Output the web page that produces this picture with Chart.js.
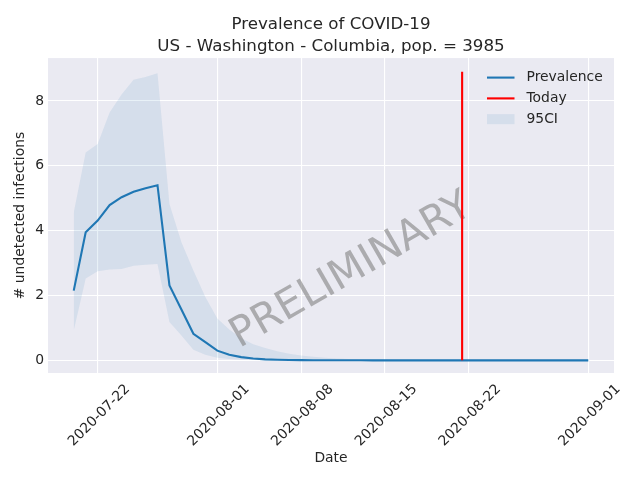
<!DOCTYPE html>
<html><head><meta charset="utf-8">
<script src="https://cdn.jsdelivr.net/npm/chart.js@4.4.0/dist/chart.umd.min.js"></script>
<style>html,body{margin:0;padding:0;background:#fff}</style>
</head><body>
<canvas id="c" width="640" height="480"></canvas>
<script>
const dates = ['2020-07-20','2020-07-21','2020-07-22','2020-07-23','2020-07-24','2020-07-25','2020-07-26','2020-07-27','2020-07-28','2020-07-29','2020-07-30','2020-07-31',
'2020-08-01','2020-08-02','2020-08-03','2020-08-04','2020-08-05','2020-08-06','2020-08-07','2020-08-08','2020-08-09','2020-08-10','2020-08-11','2020-08-12','2020-08-13','2020-08-14','2020-08-15','2020-08-16','2020-08-17','2020-08-18','2020-08-19','2020-08-20','2020-08-21','2020-08-22','2020-08-23','2020-08-24','2020-08-25','2020-08-26','2020-08-27','2020-08-28','2020-08-29','2020-08-30','2020-08-31','2020-09-01'];
const prevalence = [2.15,3.95,4.31,4.79,5.03,5.20,5.31,5.40,2.31,1.57,0.82,0.56,
0.30,0.17,0.10,0.055,0.03,0.018,0.01,0.006,0.004,0.003,0.002,0.001,0.001,0,0,0,0,0,0,0,0,0,0,0,0,0,0,0,0,0,0,0];
const ciLower = [0.92,2.52,2.75,2.80,2.82,2.92,2.95,2.97,1.18,0.77,0.33,0.17,
0.08,0.04,0.02,0.01,0.005,0,0,0,0,0,0,0,0,0,0,0,0,0,0,0,0,0,0,0,0,0,0,0,0,0,0,0];
const ciUpper = [4.56,6.41,6.67,7.64,8.20,8.65,8.74,8.85,4.82,3.64,2.77,1.95,
1.29,0.95,0.68,0.50,0.38,0.28,0.20,0.15,0.11,0.08,0.06,0.045,0.035,0.025,0.018,0.012,0.008,0.005,0.003,0.002,0.001,0,0,0,0,0,0,0,0,0,0,0];
const todayDate = '2020-08-21T11:00:00Z';
const todayTop = 8.9;
const tickDates = ['2020-07-22','2020-08-01','2020-08-08','2020-08-15','2020-08-22','2020-09-01'];
const yTicks = [0,2,4,6,8];
const yLimits = [-0.39, 9.32];
const titleLines = ['Prevalence of COVID-19','US - Washington - Columbia, pop. = 3985'];
const seriesLabels = {prev:'Prevalence', today:'Today', ci:'95CI'};
const watermarkText = 'PRELIMINARY';

const DAY = 86400000;
const dayNum = s => Date.parse(s.length === 10 ? s + 'T00:00:00Z' : s) / DAY;
const fmtDay = v => new Date(Math.round(v) * DAY).toISOString().slice(0, 10);

const xs = dates.map(dayNum);
const xLo = Math.min(...xs), xHi = Math.max(...xs);
const xPad = 0.05 * (xHi - xLo);
const todayX = dayNum(todayDate);

const FONT = 'DejaVu Sans';
const TXT = '#262626';
const BLUE = '#1f77b4';
const BAND = 'rgba(31,119,180,0.1)';

const legendPlugin = {
  id: 'innerLegend',
  afterDraw(chart) {
    const ctx = chart.ctx, a = chart.chartArea;
    const items = [
      {label: seriesLabels.prev, type: 'line', color: BLUE},
      {label: seriesLabels.today, type: 'line', color: '#ff0000'},
      {label: seriesLabels.ci, type: 'rect', color: BAND}
    ];
    ctx.save();
    ctx.font = '13.9px "' + FONT + '"';
    ctx.textBaseline = 'middle';
    ctx.textAlign = 'left';
    items.forEach((it, i) => {
      const y = a.top + 19.5 + i * 20.8;
      const x0 = a.right - 127;
      if (it.type === 'line') {
        ctx.strokeStyle = it.color; ctx.lineWidth = 2.1;
        ctx.beginPath(); ctx.moveTo(x0, y); ctx.lineTo(x0 + 27.5, y); ctx.stroke();
      } else {
        ctx.fillStyle = it.color;
        ctx.fillRect(x0, y - 5, 27.5, 10);
      }
      ctx.fillStyle = TXT;
      ctx.fillText(it.label, x0 + 39.5, y);
    });
    ctx.restore();
  }
};

const watermarkPlugin = {
  id: 'watermark',
  beforeDatasetsDraw(chart) {
    const ctx = chart.ctx;
    const cx = chart.scales.x.getPixelForValue(xLo + 23.2);
    const cy = chart.scales.y.getPixelForValue(2.75);
    ctx.save();
    ctx.translate(cx, cy);
    ctx.rotate(-Math.PI / 6);
    ctx.font = '41px "' + FONT + '"';
    ctx.fillStyle = 'rgba(128,128,128,0.6)';
    ctx.textAlign = 'center';
    ctx.textBaseline = 'middle';
    ctx.fillText(watermarkText, 0, 0);
    ctx.restore();
  }
};

const bgPlugin = {
  id: 'bg',
  beforeDraw(chart) {
    const ctx = chart.ctx, a = chart.chartArea;
    ctx.save();
    ctx.fillStyle = '#ffffff';
    ctx.fillRect(0, 0, chart.width, chart.height);
    ctx.fillStyle = '#EAEAF2';
    ctx.fillRect(a.left, a.top, a.right - a.left, a.bottom - a.top);
    ctx.restore();
  }
};

new Chart(document.getElementById('c'), {
  type: 'line',
  data: {
    datasets: [
      {label: seriesLabels.prev, data: xs.map((x, i) => ({x, y: prevalence[i]})),
       borderColor: BLUE, borderWidth: 2.1, pointRadius: 0, fill: false, tension: 0, order: 1},
      {label: seriesLabels.today, data: [{x: todayX, y: 0}, {x: todayX, y: todayTop}],
       borderColor: '#ff0000', borderWidth: 2.1, pointRadius: 0, fill: false, order: 0},
      {label: 'lower', data: xs.map((x, i) => ({x, y: ciLower[i]})),
       borderWidth: 0, borderColor: 'rgba(0,0,0,0)', pointRadius: 0, fill: false, order: 3},
      {label: seriesLabels.ci, data: xs.map((x, i) => ({x, y: ciUpper[i]})),
       borderWidth: 0, borderColor: 'rgba(0,0,0,0)', backgroundColor: BAND, pointRadius: 0, fill: '-1', order: 2}
    ]
  },
  options: {
    responsive: false, animation: false, devicePixelRatio: 1,
    layout: {padding: {left: 0, right: 26, top: 0, bottom: 0}},
    plugins: {
      legend: {display: false},
      tooltip: {enabled: false},
      filler: {drawTime: 'beforeDatasetsDraw'},
      title: {display: true, text: titleLines, fullSize: false, color: TXT,
        font: {family: FONT, size: 16.7, weight: 'normal', lineHeight: 1.32},
        padding: {top: 13.5, bottom: 0.5}}
    },
    scales: {
      x: {
        type: 'linear', min: xLo - xPad, max: xHi + xPad,
        afterBuildTicks: s => { s.ticks = tickDates.map(d => ({value: dayNum(d)})); },
        afterFit: s => { s.height = 107; },
        ticks: {callback: v => fmtDay(v), minRotation: 45, maxRotation: 45, autoSkip: false,
          font: {family: FONT, size: 13.9}, color: TXT, padding: 8, labelOffset: 30},
        grid: {color: '#ffffff', lineWidth: 1.1, drawTicks: false},
        border: {display: false},
        title: {display: true, text: 'Date', color: TXT, font: {family: FONT, size: 13.9}, padding: {top: 4, bottom: 13}}
      },
      y: {
        type: 'linear', min: yLimits[0], max: yLimits[1],
        afterBuildTicks: s => { s.ticks = yTicks.map(v => ({value: v})); },
        afterFit: s => { s.width = 48; },
        ticks: {font: {family: FONT, size: 13.9}, color: TXT, padding: 4},
        grid: {color: '#ffffff', lineWidth: 1.1, drawTicks: false},
        border: {display: false},
        title: {display: true, text: '# undetected infections', color: TXT, font: {family: FONT, size: 13.9}, padding: {top: 12, bottom: 0}}
      }
    }
  },
  plugins: [bgPlugin, watermarkPlugin, legendPlugin]
});
</script>
</body></html>
